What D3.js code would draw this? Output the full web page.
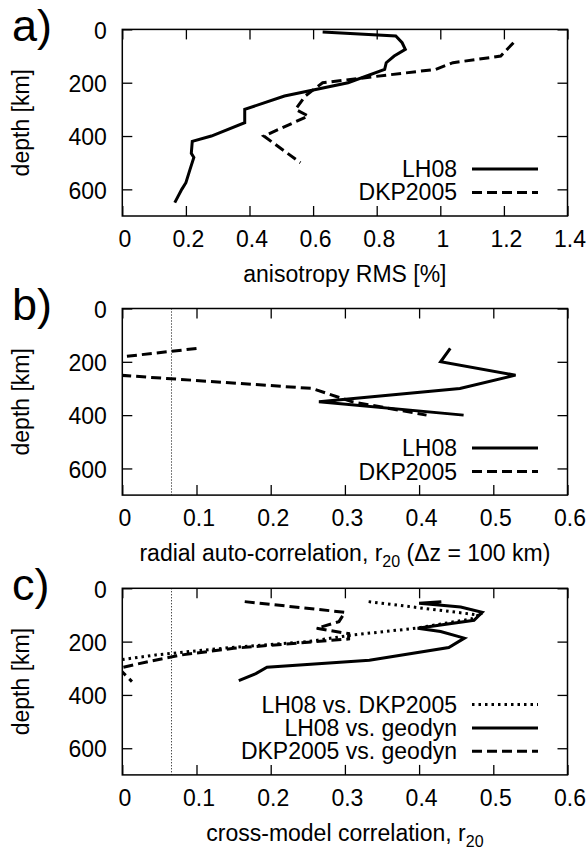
<!DOCTYPE html>
<html><head><meta charset="utf-8">
<script src="https://cdn.jsdelivr.net/npm/d3@7"></script>
<style>
body{margin:0;background:#fff}
text{font-family:"Liberation Sans",Arial,Helvetica,sans-serif;fill:#000}
</style>
</head><body>
<svg id="chart" width="588" height="851"></svg>
<script>
// ---------- data ----------
const depthTicks = [0, 200, 400, 600];
const depthTickLabels = ["0", "200", "400", "600"];
const ticksA = [0, 0.2, 0.4, 0.6, 0.8, 1.0, 1.2, 1.4];
const tickLabelsA = ["0", "0.2", "0.4", "0.6", "0.8", "1", "1.2", "1.4"];
const ticksBC = [0, 0.1, 0.2, 0.3, 0.4, 0.5, 0.6];
const tickLabelsBC = ["0", "0.1", "0.2", "0.3", "0.4", "0.5", "0.6"];

// panel a: anisotropy RMS [%]  ([depth km, value])
const rmsLH08 = [[10,0.63],[25,0.86],[50,0.88],[75,0.89],[100,0.855],[125,0.83],[150,0.825],
  [200,0.71],[250,0.51],[300,0.385],[350,0.385],[400,0.28],[420,0.22],[465,0.217],[480,0.225],
  [525,0.213],[575,0.20],[600,0.187],[650,0.165]];
const rmsDKP2005 = [[50,1.23],[100,1.19],[125,1.04],[150,0.985],[200,0.63],[250,0.575],
  [300,0.545],[325,0.585],[400,0.445],[500,0.56]];

// panel b: radial auto-correlation
const autoLH08 = [[150,0.442],[200,0.429],[250,0.53],[300,0.455],[350,0.265],[400,0.46]];
const autoDKP2005 = [[150,0.1],[200,-0.06],[250,-0.005],[300,0.256],[350,0.31],[400,0.41]];

// panel c: cross-model correlation
const crossLH08vsDKP = [[50,0.332],[100,0.48],[115,0.47],[150,0.395],[175,0.31],[200,0.25],
  [225,0.135],[250,0.045],[275,-0.02]];
const crossLH08vsGeo = [[50,0.43],[56,0.40],[70,0.456],[90,0.485],[120,0.474],[150,0.398],
  [162,0.429],[187,0.461],[222,0.44],[270,0.333],[296,0.195],[320,0.18],[346,0.157]];
const crossDKPvsGeo = [[50,0.165],[90,0.30],[125,0.292],[150,0.262],[170,0.305],[190,0.305],
  [225,0.15],[250,0.08],[275,0.035],[300,-0.005],[350,0.013]];

const significance = 0.066;

// ---------- layout ----------
const svg = d3.select("#chart");
const X0 = 122.3, X1 = 567.5, H = 186.6;
const FS = 23;
const styles = {
  solid: {dash: null},
  dashed: {dash: "10,5"},
  dotted: {dash: "2.5,4"}
};

const panels = [
  {id:"a", label:"a)", top:29.4, xmax:1.4, ticks:ticksA, tickLabels:tickLabelsA,
   title:[{t:"anisotropy RMS [%]"}],
   series:[{name:"LH08", data:rmsLH08, st:"solid"},{name:"DKP2005", data:rmsDKP2005, st:"dashed"}],
   vline:false},
  {id:"b", label:"b)", top:308.5, xmax:0.6, ticks:ticksBC, tickLabels:tickLabelsBC,
   title:[{t:"radial auto-correlation, r"},{t:"20", sub:true},{t:" (\u0394z = 100 km)", up:true}],
   series:[{name:"LH08", data:autoLH08, st:"solid"},{name:"DKP2005", data:autoDKP2005, st:"dashed"}],
   vline:true},
  {id:"c", label:"c)", top:588.3, xmax:0.6, ticks:ticksBC, tickLabels:tickLabelsBC,
   title:[{t:"cross-model correlation, r"},{t:"20", sub:true}],
   series:[{name:"LH08 vs. DKP2005", data:crossLH08vsDKP, st:"dotted"},
           {name:"LH08 vs. geodyn", data:crossLH08vsGeo, st:"solid"},
           {name:"DKP2005 vs. geodyn", data:crossDKPvsGeo, st:"dashed"}],
   vline:true}
];

panels.forEach(p => {
  const x = d3.scaleLinear().domain([0, p.xmax]).range([X0, X1]);
  const y = d3.scaleLinear().domain([0, 700]).range([p.top, p.top + H]);
  const g = svg.append("g");

  g.append("clipPath").attr("id", "clip-" + p.id)
    .append("rect").attr("x", X0).attr("y", p.top).attr("width", X1 - X0).attr("height", H);

  // axes (mirrored inward ticks)
  const ax = [
    {a: d3.axisBottom(x).tickValues(p.ticks).tickSizeInner(-10).tickSizeOuter(0)
        .tickPadding(15).tickFormat((d,i)=>p.tickLabels[i]), tr:`translate(0,${p.top+H})`, kind:"b"},
    {a: d3.axisTop(x).tickValues(p.ticks).tickSizeInner(-10).tickSizeOuter(0).tickFormat(""), tr:`translate(0,${p.top})`},
    {a: d3.axisLeft(y).tickValues(depthTicks).tickSizeInner(-10).tickSizeOuter(0)
        .tickPadding(15.5).tickFormat((d,i)=>depthTickLabels[i]), tr:`translate(${X0},0)`, kind:"l"},
    {a: d3.axisRight(y).tickValues(depthTicks).tickSizeInner(-10).tickSizeOuter(0).tickFormat(""), tr:`translate(${X1},0)`}
  ];
  ax.forEach(o => {
    const ag = g.append("g").attr("transform", o.tr).call(o.a);
    ag.select(".domain").remove();
    ag.selectAll(".tick line").attr("stroke", "#000").attr("stroke-width", 1.3);
    ag.selectAll(".tick text").style("font-size", FS + "px")
      .style("font-family", '"Liberation Sans",Arial,sans-serif').attr("fill", "#000");
    if (o.kind === "b") ag.selectAll(".tick text").attr("dx", 2);
    if (o.kind === "l") ag.selectAll(".tick text").attr("dy", "0.38em");
  });

  // frame
  g.append("rect").attr("x", X0).attr("y", p.top).attr("width", X1 - X0).attr("height", H)
    .attr("fill", "none").attr("stroke", "#000").attr("stroke-width", 1.5);

  // significance line
  if (p.vline) {
    const vx = Math.round(x(significance)) + 0.5;
    g.append("line").attr("x1", vx).attr("x2", vx)
      .attr("y1", p.top).attr("y2", p.top + H)
      .attr("stroke", "#000").attr("stroke-width", 1).attr("stroke-dasharray", "1,2");
  }

  // data lines
  const line = d3.line().x(d => x(d[1])).y(d => y(d[0]));
  const dg = g.append("g").attr("clip-path", `url(#clip-${p.id})`);
  p.series.forEach(s => {
    dg.append("path").attr("d", line(s.data)).attr("fill", "none").attr("stroke", "#000")
      .attr("stroke-width", 3).attr("stroke-linejoin", "miter").attr("stroke-miterlimit", 4)
      .attr("stroke-dasharray", styles[s.st].dash);
  });

  // legend (bottom rows aligned)
  const n = p.series.length;
  p.series.forEach((s, i) => {
    const ly = p.top + 163 - (n - 1 - i) * 23.4;
    g.append("text").attr("x", 457).attr("y", ly + 8).attr("text-anchor", "end")
      .style("font-size", FS + "px").text(s.name);
    g.append("line").attr("x1", 472).attr("x2", 538).attr("y1", ly).attr("y2", ly)
      .attr("stroke", "#000").attr("stroke-width", 3).attr("stroke-dasharray", styles[s.st].dash);
  });

  // x title
  const tt = g.append("text").attr("x", (X0 + X1) / 2).attr("y", p.top + H + 66)
    .attr("text-anchor", "middle").style("font-size", FS + "px");
  p.title.forEach(part => {
    const ts = tt.append("tspan").text(part.t);
    if (part.sub) ts.attr("dy", 6).style("font-size", "16px");
    if (part.up) ts.attr("dy", -6);
  });

  // y title
  g.append("text").attr("transform", `translate(28.5,${p.top + H / 2}) rotate(-90)`)
    .attr("text-anchor", "middle").style("font-size", FS + "px").text("depth [km]");

  // panel label
  g.append("text").attr("x", 12).attr("y", p.top + 11.4).style("font-size", "45px").text(p.label);
});
</script>
</body></html>
